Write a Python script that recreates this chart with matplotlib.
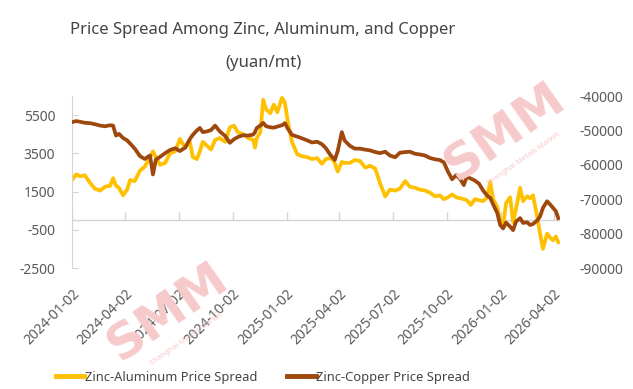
import matplotlib
matplotlib.use("Agg")
import matplotlib.pyplot as plt
import pandas as pd

plt.rcParams['font.family'] = ['Noto Sans', 'DejaVu Sans']
plt.rcParams['axes.unicode_minus'] = False

dates = [
    "2024-01-02", "2024-01-09", "2024-01-16", "2024-01-24", "2024-02-02", "2024-02-10",
    "2024-02-19", "2024-02-27", "2024-03-07", "2024-03-12", "2024-03-17", "2024-03-22",
    "2024-03-29", "2024-04-05", "2024-04-10", "2024-04-18", "2024-04-27", "2024-05-05",
    "2024-05-14", "2024-05-19", "2024-05-24", "2024-05-31", "2024-06-09", "2024-06-17",
    "2024-06-26", "2024-07-04", "2024-07-13", "2024-07-21", "2024-07-26", "2024-08-02",
    "2024-08-07", "2024-08-12", "2024-08-19", "2024-08-26", "2024-09-02", "2024-09-10",
    "2024-09-19", "2024-09-27", "2024-10-04", "2024-10-11", "2024-10-20", "2024-10-28",
    "2024-11-06", "2024-11-09", "2024-11-12", "2024-11-18", "2024-11-23", "2024-11-28",
    "2024-12-05", "2024-12-11", "2024-12-17", "2024-12-25", "2024-12-30", "2025-01-04",
    "2025-01-11", "2025-01-20", "2025-01-28", "2025-02-06", "2025-02-14", "2025-02-23",
    "2025-03-03", "2025-03-10", "2025-03-17", "2025-03-22", "2025-03-25", "2025-03-30",
    "2025-04-06", "2025-04-11", "2025-04-20", "2025-04-28", "2025-05-07", "2025-05-16",
    "2025-05-24", "2025-06-02", "2025-06-10", "2025-06-19", "2025-06-27", "2025-07-06",
    "2025-07-14", "2025-07-23", "2025-07-31", "2025-08-09", "2025-08-17", "2025-08-26",
    "2025-09-03", "2025-09-12", "2025-09-20", "2025-09-27", "2025-10-04", "2025-10-11",
    "2025-10-18", "2025-10-25", "2025-10-31", "2025-11-05", "2025-11-12", "2025-11-19",
    "2025-11-26", "2025-12-03", "2025-12-10", "2025-12-15", "2025-12-20", "2025-12-27",
    "2026-01-01", "2026-01-06", "2026-01-11", "2026-01-18", "2026-01-23", "2026-01-28",
    "2026-02-04", "2026-02-09", "2026-02-16", "2026-02-21", "2026-02-26", "2026-03-05",
    "2026-03-10", "2026-03-15", "2026-03-22", "2026-03-27", "2026-04-01", "2026-04-06",
    "2026-04-10",
]

# zinc-aluminum spread, left axis
zn_al = [
    2100, 2400, 2300, 2350, 1950, 1650, 1550, 1750, 1800, 2200, 1800, 1700,
    1300, 1600, 2100, 2050, 2600, 2800, 3300, 3600, 3300, 2900, 3000, 3500,
    3600, 4250, 3800, 4100, 3300, 3200, 3600, 4100, 3900, 3700, 4200, 4300,
    4100, 4850, 4950, 4600, 4500, 4300, 4200, 3800, 4300, 4600, 6300, 5800,
    5600, 6050, 5650, 6400, 6150, 5150, 4100, 3450, 3350, 3300, 3200, 3250,
    2950, 3200, 3250, 3150, 3000, 2550, 3050, 3000, 3000, 3150, 3100, 2750,
    2850, 2700, 1950, 1250, 1600, 1550, 1650, 2050, 1750, 1700, 1600, 1550,
    1450, 1250, 1300, 1100, 1200, 1350, 1200, 1150, 1100, 1050, 800, 1100,
    1050, 1000, 1200, 2000, 1100, 700, 0, -300, 900, 1200, -100, 600,
    1700, 1000, 1250, 1150, 1300, 200, -700, -1500, -700, -900, -1050, -850,
    -1150,
]

# zinc-copper spread, right axis
zn_cu = [
    -47600, -47300, -47500, -47800, -47900, -48200, -48600, -48800, -48500, -48600, -51500, -51000,
    -52200, -52900, -53800, -55300, -57500, -58300, -57300, -62800, -58500, -57700, -56600, -55700,
    -55200, -56000, -55000, -52500, -51300, -50000, -49300, -50500, -50300, -49900, -48600, -50300,
    -51600, -53600, -52600, -51900, -51400, -51500, -51200, -50500, -49300, -48600, -47800, -48800,
    -49100, -49200, -48900, -48500, -47900, -49500, -51300, -51800, -52300, -52900, -53500, -53300,
    -54000, -55200, -57000, -58000, -58600, -56000, -50500, -53000, -54500, -55300, -55300, -55600,
    -55800, -56300, -56600, -56200, -57300, -57800, -56500, -56300, -56200, -56800, -57000, -57300,
    -58000, -58400, -58600, -59300, -62000, -64200, -63000, -64200, -65900, -63500, -64000, -64600,
    -65500, -67500, -69000, -69600, -71500, -74000, -77500, -78500, -76800, -78000, -79000, -76500,
    -75500, -76900, -76700, -77500, -77200, -76200, -75000, -72500, -70600, -71500, -72500, -73500,
    -75500,
]

tick_dates = ["2024-01-02", "2024-04-02", "2024-07-02", "2024-10-02", "2025-01-02",
              "2025-04-02", "2025-07-02", "2025-10-02", "2026-01-02", "2026-04-02"]
left_ticks = [-2500, -500, 1500, 3500, 5500]
right_ticks = [-90000, -80000, -70000, -60000, -50000, -40000]

x = pd.to_datetime(dates)
xt = pd.to_datetime(tick_dates)

c_al = '#FFC000'
c_cu = '#9E480E'
axis_c = '#d4d4d4'
txt_c = '#5a5a5a'
wm_c = '#f6caca'

fig = plt.figure(figsize=(6.33, 3.89), dpi=100)

# faint SMM watermarks behind everything
for wx, wy in [(505, 132), (168, 312)]:
    fig.text(wx / 633, 1 - wy / 389, 'SMM', fontsize=36, fontweight='heavy',
             family='DejaVu Sans', color=wm_c, rotation=35,
             ha='center', va='center', zorder=0)
    fig.text(wx / 633 + 0.03, 1 - wy / 389 - 0.07, 'Shanghai Metals Market', fontsize=5.5,
             color=wm_c, rotation=35, ha='center', va='center', zorder=0)

ax = fig.add_axes([72 / 633, 1 - 268 / 389, 488 / 633, 172 / 389])
ax2 = ax.twinx()
ax.patch.set_visible(False)
ax2.patch.set_visible(False)

ax.plot(x, zn_al, color=c_al, lw=2.7, label='Zinc-Aluminum Price Spread')
ax2.plot(x, zn_cu, color=c_cu, lw=2.7, label='Zinc-Copper Price Spread')

ax.set_ylim(-2500, 6500)
ax2.set_ylim(-90000, -40000)
ax.set_yticks(left_ticks)
ax2.set_yticks(right_ticks)
ax.set_xlim(x[0], x[-1] + pd.Timedelta(days=3))

# zero line with small upward ticks, like the original
ax.axhline(0, color=axis_c, lw=1, zorder=0)
ax.plot(xt, [0] * len(xt), ls='none', marker=2, ms=6, mew=1, color=axis_c, zorder=0)

ax.set_xticks(xt)
ax.set_xticklabels(tick_dates, rotation=45, ha='right', rotation_mode='anchor')
ax.tick_params(axis='x', length=0, pad=13, labelsize=10, labelcolor=txt_c)
ax.tick_params(axis='y', direction='in', length=4, color=axis_c, pad=12,
               labelsize=10, labelcolor=txt_c)
ax2.tick_params(axis='y', length=0, pad=14, labelsize=10, labelcolor=txt_c)

for s in ['top', 'right', 'bottom']:
    ax.spines[s].set_visible(False)
ax.spines['left'].set_color(axis_c)
for s in ax2.spines.values():
    s.set_visible(False)

fig.text(263 / 633, 1 - 30 / 389, 'Price Spread Among Zinc, Aluminum, and Copper',
         ha='center', va='center', fontsize=12, color='#444444')
fig.text(263 / 633, 1 - 63 / 389, '(yuan/mt)',
         ha='center', va='center', fontsize=12, color='#444444')

h1, l1 = ax.get_legend_handles_labels()
h2, l2 = ax2.get_legend_handles_labels()
leg = fig.legend(h1 + h2, l1 + l2, loc='center', bbox_to_anchor=(263 / 633, 12 / 389),
                 ncol=2, frameon=False, fontsize=9.3, handlelength=2.2,
                 handletextpad=0.05, columnspacing=2.3)
for t in leg.get_texts():
    t.set_color('#444444')
for line in leg.get_lines():
    line.set_linewidth(3.5)

fig.savefig('out.png', dpi=100)
